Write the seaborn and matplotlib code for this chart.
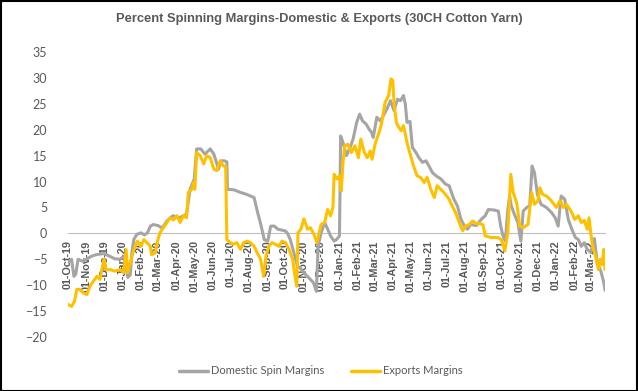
import pandas as pd
import matplotlib
matplotlib.use('Agg')
import matplotlib.pyplot as plt
import matplotlib.dates as mdates
from matplotlib.patches import Rectangle
import seaborn as sns

# Domestic spin margins (%)
dom_dates = ["2019-10-01", "2019-10-07", "2019-10-11", "2019-10-14", "2019-10-18", "2019-10-26",
             "2019-11-01", "2019-11-10", "2019-11-18", "2019-12-01", "2019-12-10", "2019-12-19",
             "2019-12-28", "2020-01-03", "2020-01-06", "2020-01-10", "2020-01-14", "2020-01-17",
             "2020-01-20", "2020-01-25", "2020-02-01", "2020-02-07", "2020-02-12", "2020-02-17",
             "2020-02-22", "2020-03-01", "2020-03-08", "2020-03-16", "2020-03-26", "2020-04-06",
             "2020-04-18", "2020-04-24", "2020-05-01", "2020-05-05", "2020-05-12", "2020-05-19",
             "2020-05-28", "2020-06-03", "2020-06-11", "2020-06-15", "2020-06-21", "2020-06-25",
             "2020-06-26", "2020-07-07", "2020-07-18", "2020-07-29", "2020-08-10", "2020-08-16",
             "2020-08-22", "2020-08-27", "2020-09-02", "2020-09-07", "2020-09-13", "2020-09-19",
             "2020-10-01", "2020-10-05", "2020-10-10", "2020-10-16", "2020-10-22", "2020-10-26",
             "2020-11-02", "2020-11-08", "2020-11-13", "2020-11-18", "2020-11-23", "2020-11-26",
             "2020-12-01", "2020-12-07", "2020-12-11", "2020-12-17", "2020-12-23", "2020-12-27",
             "2021-01-01", "2021-01-03", "2021-01-07", "2021-01-13", "2021-01-19", "2021-01-24",
             "2021-01-30", "2021-02-04", "2021-02-09", "2021-02-15", "2021-02-20", "2021-02-24",
             "2021-02-27", "2021-03-05", "2021-03-11", "2021-03-16", "2021-03-22", "2021-03-28",
             "2021-04-03", "2021-04-09", "2021-04-14", "2021-04-19", "2021-04-22", "2021-04-25",
             "2021-04-30", "2021-05-04", "2021-05-10", "2021-05-15", "2021-05-21", "2021-05-27",
             "2021-06-01", "2021-06-07", "2021-06-13", "2021-06-21", "2021-06-29", "2021-07-05",
             "2021-07-13", "2021-07-19", "2021-07-25", "2021-07-31", "2021-08-05", "2021-08-10",
             "2021-08-20", "2021-08-28", "2021-09-04", "2021-09-09", "2021-09-19", "2021-09-26",
             "2021-09-30", "2021-10-04", "2021-10-08", "2021-10-12", "2021-10-15", "2021-10-18",
             "2021-10-23", "2021-10-29", "2021-11-03", "2021-11-07", "2021-11-13", "2021-11-18",
             "2021-11-22", "2021-11-26", "2021-12-01", "2021-12-07", "2021-12-16", "2021-12-25",
             "2021-12-31", "2022-01-05", "2022-01-10", "2022-01-16", "2022-01-22", "2022-01-28",
             "2022-02-03", "2022-02-08", "2022-02-13", "2022-02-18", "2022-02-23", "2022-03-01",
             "2022-03-07", "2022-03-12", "2022-03-18", "2022-03-23", "2022-03-25"]
dom_vals = [-5.7, -5.0, -8.3, -7.9, -5.0, -5.4,
            -5.0, -4.4, -4.1, -3.9, -4.4, -4.9,
            -5.0, -4.4, -6.0, -8.5, -8.0, -3.5,
            -1.2, -0.2, 0.1, -0.3, 0.1, 1.4,
            1.7, 1.5, 1.0, 2.4, 3.4, 3.0,
            3.7, 8.5, 10.5, 16.3, 16.3, 15.3,
            16.3, 15.3, 12.4, 14.0, 14.0, 13.8,
            8.5, 8.4, 7.9, 7.5, 6.9, 4.0,
            1.4, -1.2, -1.5, 1.4, 1.4, 0.8,
            0.5, 0.1, -1.2, -3.7, -6.3, -6.6,
            -7.6, -8.3, -8.9, -9.5, -11.2, -2.5,
            0.1, 2.1, 1.1, -0.5, -1.5, -1.2,
            -0.5, 18.8, 17.5, 15.0, 16.6, 18.2,
            21.4, 23.0, 21.7, 21.1, 20.1, 19.5,
            18.5, 22.4, 21.7, 22.7, 24.0, 25.6,
            23.7, 25.9, 25.6, 26.6, 25.0, 21.4,
            21.6, 16.6, 15.6, 14.6, 13.7, 14.0,
            13.0, 11.7, 11.1, 10.5, 9.5, 9.2,
            6.6, 5.3, 2.7, 1.4, 0.8, 1.7,
            1.5, 2.7, 3.4, 4.6, 4.5, 4.3,
            1.4, -0.5, -1.5, 4.6, 7.2, 5.3,
            3.7, 2.1, -1.5, 4.3, 5.0, 5.3,
            13.0, 11.7, 7.5, 5.6, 5.0, 4.0,
            3.0, 1.4, 7.2, 6.6, 2.7, 0.8,
            -0.8, -1.2, -2.5, -1.8, -3.1, -3.7,
            -1.0, -5.7, -7.3, -9.5, -11.0]

# Export margins (%)
exp_dates = ["2019-10-01", "2019-10-07", "2019-10-12", "2019-10-16", "2019-10-20", "2019-10-27",
             "2019-11-02", "2019-11-07", "2019-11-13", "2019-11-19", "2019-11-24", "2019-11-27",
             "2019-12-01", "2019-12-04", "2019-12-11", "2019-12-19", "2019-12-28", "2020-01-03",
             "2020-01-07", "2020-01-10", "2020-01-14", "2020-01-18", "2020-01-22", "2020-01-26",
             "2020-02-01", "2020-02-06", "2020-02-11", "2020-02-17", "2020-02-19", "2020-02-25",
             "2020-02-29", "2020-03-04", "2020-03-10", "2020-03-16", "2020-03-21", "2020-03-27",
             "2020-04-02", "2020-04-07", "2020-04-13", "2020-04-18", "2020-04-21", "2020-04-27",
             "2020-04-30", "2020-05-02", "2020-05-05", "2020-05-11", "2020-05-17", "2020-05-22",
             "2020-05-28", "2020-06-03", "2020-06-08", "2020-06-14", "2020-06-19", "2020-06-23",
             "2020-06-25", "2020-07-01", "2020-07-06", "2020-07-12", "2020-07-18", "2020-07-23",
             "2020-07-29", "2020-08-04", "2020-08-10", "2020-08-15", "2020-08-21", "2020-08-26",
             "2020-08-30", "2020-09-04", "2020-09-09", "2020-09-15", "2020-09-21", "2020-09-26",
             "2020-10-02", "2020-10-08", "2020-10-14", "2020-10-17", "2020-10-21", "2020-10-23",
             "2020-10-28", "2020-11-02", "2020-11-08", "2020-11-13", "2020-11-19", "2020-11-24",
             "2020-12-01", "2020-12-07", "2020-12-12", "2020-12-17", "2020-12-21", "2020-12-23",
             "2020-12-28", "2021-01-01", "2021-01-04", "2021-01-07", "2021-01-10", "2021-01-15",
             "2021-01-21", "2021-01-27", "2021-02-02", "2021-02-06", "2021-02-12", "2021-02-17",
             "2021-02-22", "2021-02-25", "2021-03-02", "2021-03-08", "2021-03-13", "2021-03-19",
             "2021-03-25", "2021-03-29", "2021-04-01", "2021-04-03", "2021-04-07", "2021-04-11",
             "2021-04-15", "2021-04-19", "2021-04-25", "2021-05-01", "2021-05-06", "2021-05-12",
             "2021-05-18", "2021-05-24", "2021-05-29", "2021-06-04", "2021-06-10", "2021-06-15",
             "2021-06-21", "2021-06-26", "2021-07-05", "2021-07-10", "2021-07-16", "2021-07-22",
             "2021-07-28", "2021-08-02", "2021-08-08", "2021-08-14", "2021-08-19", "2021-08-25",
             "2021-08-31", "2021-09-04", "2021-09-14", "2021-09-25", "2021-10-01", "2021-10-07",
             "2021-10-12", "2021-10-17", "2021-10-21", "2021-10-27", "2021-10-29", "2021-11-01",
             "2021-11-07", "2021-11-15", "2021-11-18", "2021-11-21", "2021-11-26", "2021-12-02",
             "2021-12-05", "2021-12-10", "2021-12-16", "2021-12-22", "2021-12-27", "2022-01-02",
             "2022-01-08", "2022-01-14", "2022-01-19", "2022-01-25", "2022-01-28", "2022-02-02",
             "2022-02-08", "2022-02-13", "2022-02-18", "2022-02-23", "2022-02-26", "2022-03-01",
             "2022-03-04", "2022-03-09", "2022-03-14", "2022-03-17", "2022-03-20", "2022-03-23",
             "2022-03-25"]
exp_vals = [-13.7, -14.1, -13.1, -10.8, -10.8, -11.5,
            -11.8, -10.2, -9.2, -8.3, -8.9, -7.0,
            -5.0, -7.0, -7.0, -7.3, -7.0, -7.6,
            -3.1, -7.6, -5.7, -4.0, -2.5, -1.5,
            -2.5, -1.2, -1.8, -2.5, -4.1, -3.8,
            -1.5, 0.1, 1.1, 2.1, 3.0, 2.6,
            3.4, 2.1, 3.4, 3.0, 7.9, 8.5,
            9.8, 8.5, 15.6, 15.0, 13.4, 15.0,
            14.6, 12.4, 12.1, 14.0, 13.0, 13.0,
            -1.2, -1.8, -2.1, -1.8, -3.1, -1.8,
            -1.5, -1.8, -2.5, -3.7, -5.0, -8.3,
            -4.4, -2.5, -1.8, -2.1, -2.5, -1.5,
            -1.8, -3.1, -5.0, -7.6, -10.2, 0.1,
            0.8, 2.8, 0.8, 1.1, -0.2, -1.8,
            1.7, 2.1, 4.6, 3.4, 5.0, 11.4,
            10.5, 11.1, 8.2, 13.7, 16.9, 17.2,
            15.6, 16.9, 14.6, 18.2, 15.6, 14.6,
            15.9, 14.3, 17.2, 19.2, 21.1, 25.3,
            26.6, 29.8, 29.5, 25.3, 21.4, 20.5,
            19.8, 20.8, 17.5, 15.0, 13.0, 11.1,
            10.8, 9.8, 10.8, 8.5, 6.9, 9.2,
            8.5, 7.9, 6.6, 5.3, 4.0, 2.1,
            0.5, 1.4, 1.7, 2.4, 1.9, 1.9,
            1.7, -0.5, -0.8, -0.8, -1.2, -3.4,
            0.1, 11.4, 7.9, 5.9, 4.3, 1.4,
            1.1, 1.7, 4.6, 7.9, 5.6, 6.3,
            8.8, 7.5, 7.2, 6.6, 5.9, 5.0,
            6.3, 5.0, 5.6, 4.6, 4.0, 2.7,
            3.4, 2.1, 2.5, 0.8, 3.0, 0.1,
            -2.5, -4.4, -7.0, -5.0, -6.0, -3.1,
            -7.0]

series_names = ["Domestic Spin Margins", "Exports Margins"]
colors = ["#A5A5A5", "#FFC000"]
y_ticks = list(range(-20, 40, 5))
title = "Percent Spinning Margins-Domestic & Exports (30CH Cotton Yarn)"

dom = pd.DataFrame({"date": pd.to_datetime(dom_dates), "value": dom_vals, "series": series_names[0]})
exp = pd.DataFrame({"date": pd.to_datetime(exp_dates), "value": exp_vals, "series": series_names[1]})
df = pd.concat([dom, exp], ignore_index=True)

sns.set_style("white")
plt.rcParams['font.family'] = ['Lato', 'DejaVu Sans']
grey_txt = "#595959"

fig = plt.figure(figsize=(6.38, 3.91), dpi=100)
ax = fig.add_axes([68 / 638, 1 - 337 / 391, (605 - 68) / 638, (337 - 52) / 391])

sns.lineplot(data=df, x="date", y="value", hue="series", palette=dict(zip(series_names, colors)),
             linewidth=2.2, ax=ax, legend=False, estimator=None)

ax.set_ylim(-20, 35)
ax.set_yticks(y_ticks)
ax.set_xlim(pd.Timestamp("2019-10-01"), pd.Timestamp("2022-03-25"))
ax.set_xlabel("")
ax.set_ylabel("")

# x axis crosses at zero, excel style
for s in ["top", "right", "left"]:
    ax.spines[s].set_visible(False)
ax.spines["bottom"].set_position(("data", 0))
ax.spines["bottom"].set_color("#BFBFBF")
ax.spines["bottom"].set_linewidth(0.8)
ax.spines["bottom"].set_zorder(0)

ax.xaxis.set_major_locator(mdates.MonthLocator())
ax.xaxis.set_major_formatter(mdates.DateFormatter("%d-%b-%y"))
ax.tick_params(axis="x", direction="out", length=3, width=0.8, color="#BFBFBF", pad=2,
               labelsize=7.8, labelcolor=grey_txt, rotation=90)
for lab in ax.get_xticklabels():
    lab.set_family(['Liberation Sans', 'DejaVu Sans'])
    lab.set_fontweight("bold")
ax.tick_params(axis="y", length=0, pad=15, labelsize=9, labelcolor=grey_txt)

fig.text(0.5, 1 - 19 / 391, title, ha="center", va="center", fontsize=9.3, fontweight="bold",
         color=grey_txt, family=['Liberation Sans', 'DejaVu Sans'])

handles = [plt.Line2D([], [], color=c, linewidth=2.5) for c in colors]
fig.legend(handles, series_names, loc="center", bbox_to_anchor=(321 / 638, 1 - 371 / 391),
           ncol=2, frameon=False, fontsize=8, handlelength=2.6, handletextpad=0.3,
           columnspacing=2.4, labelcolor=grey_txt)

fig.patches.append(Rectangle((0.001, 0.001), 0.997, 0.997, transform=fig.transFigure,
                             fill=False, edgecolor="black", linewidth=1.5))

plt.savefig("out.png", dpi=100)
